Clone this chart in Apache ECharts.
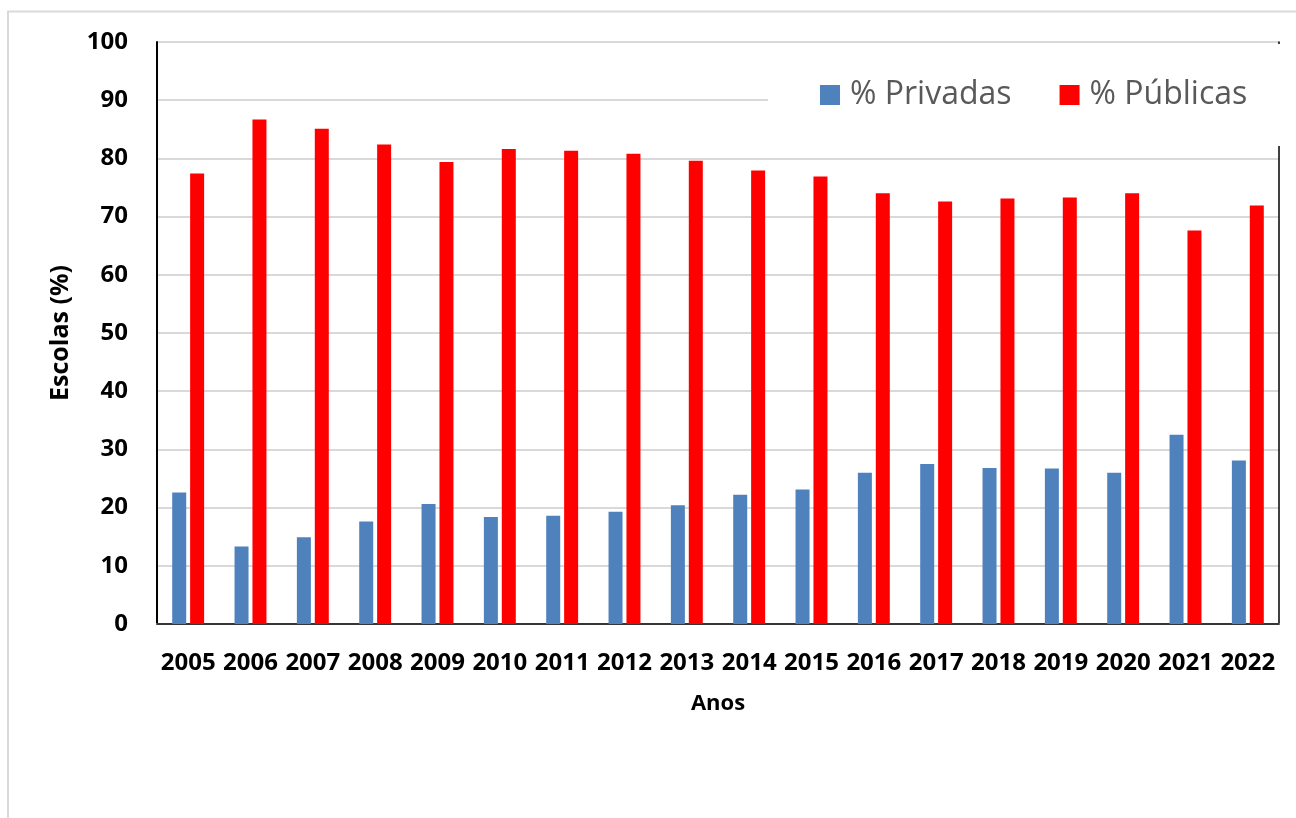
<!DOCTYPE html>
<html>
<head>
<meta charset="utf-8">
<script src="https://cdn.jsdelivr.net/npm/echarts@6/dist/echarts.min.js"></script>
<style>
  html, body { margin: 0; padding: 0; background: #fff; }
  #chart { width: 1296px; height: 818px; }
</style>
</head>
<body>
<div id="chart"></div>
<script>
const anos = ['2005', '2006', '2007', '2008', '2009', '2010', '2011', '2012', '2013',
  '2014', '2015', '2016', '2017', '2018', '2019', '2020', '2021', '2022']
const privadas = [22.6, 13.3, 14.9, 17.6, 20.6, 18.4, 18.6, 19.3, 20.4,
  22.2, 23.1, 26.0, 27.5, 26.8, 26.7, 26.0, 32.5, 28.1]
const publicas = [77.4, 86.7, 85.1, 82.4, 79.4, 81.6, 81.3, 80.8, 79.6,
  77.9, 76.9, 74.0, 72.6, 73.1, 73.3, 74.0, 67.6, 71.9]
const yTicks = { min: 0, max: 100, interval: 10 }

const labelFont = {
  fontFamily: 'Open Sans',
  fontWeight: 'bold',
  color: '#000',
}

const myChart = echarts.init(document.getElementById('chart'))

myChart.setOption({
  animation: false,
  textStyle: { fontFamily: 'Open Sans' },
  graphic: [
    {
      type: 'rect',
      shape: { x: 8, y: 11.5, width: 1300, height: 820 },
      style: { fill: 'none', stroke: '#d9d9d9', lineWidth: 2 },
      silent: true,
    },
  ],
  legend: {
    left: 768,
    top: 44,
    padding: [35, 40, 35, 52],
    backgroundColor: '#fff',
    itemWidth: 20,
    itemHeight: 20,
    itemGap: 48,
    icon: 'rect',
    textStyle: {
      fontFamily: 'Open Sans',
      fontSize: 32,
      color: '#595959',
      padding: [0, 0, 0, 5],
    },
    data: ['% Privadas', '% Públicas'],
  },
  grid: {
    left: 157,
    right: 17,
    top: 42,
    bottom: 194,
  },
  xAxis: [
    {
      type: 'category',
      data: anos,
      name: 'Anos',
      nameLocation: 'middle',
      nameGap: 69,
      nameTextStyle: { ...labelFont, fontSize: 22 },
      axisLine: { lineStyle: { color: '#d9d9d9', width: 2 } },
      axisTick: { show: false },
      axisLabel: { ...labelFont, fontSize: 24, margin: 27, interval: 0 },
    },
    {
      type: 'category',
      data: anos,
      position: 'top',
      axisLine: { lineStyle: { color: '#000', width: 1.5 } },
      axisTick: { show: false },
      axisLabel: { show: false },
    },
  ],
  yAxis: [
    {
      type: 'value',
      min: yTicks.min,
      max: yTicks.max,
      interval: yTicks.interval,
      name: 'Escolas (%)',
      nameLocation: 'middle',
      nameGap: 84,
      nameTextStyle: { ...labelFont, fontSize: 25 },
      axisLine: { show: true, lineStyle: { color: '#000', width: 2 } },
      axisTick: { show: false },
      axisLabel: { ...labelFont, fontSize: 24, margin: 29 },
      splitLine: { lineStyle: { color: '#d9d9d9', width: 2 } },
    },
    {
      type: 'value',
      min: yTicks.min,
      max: yTicks.max,
      interval: yTicks.interval,
      position: 'right',
      axisLine: { show: true, lineStyle: { color: '#000', width: 1.5 } },
      axisTick: { show: false },
      axisLabel: { show: false },
      splitLine: { show: false },
    },
  ],
  series: [
    {
      name: '% Privadas',
      type: 'bar',
      data: privadas,
      barWidth: 14,
      barGap: '28%',
      itemStyle: { color: '#4f81bd' },
    },
    {
      name: '% Públicas',
      type: 'bar',
      data: publicas,
      barWidth: 14,
      barGap: '28%',
      itemStyle: { color: '#ff0000' },
    },
  ],
})
</script>
</body>
</html>
